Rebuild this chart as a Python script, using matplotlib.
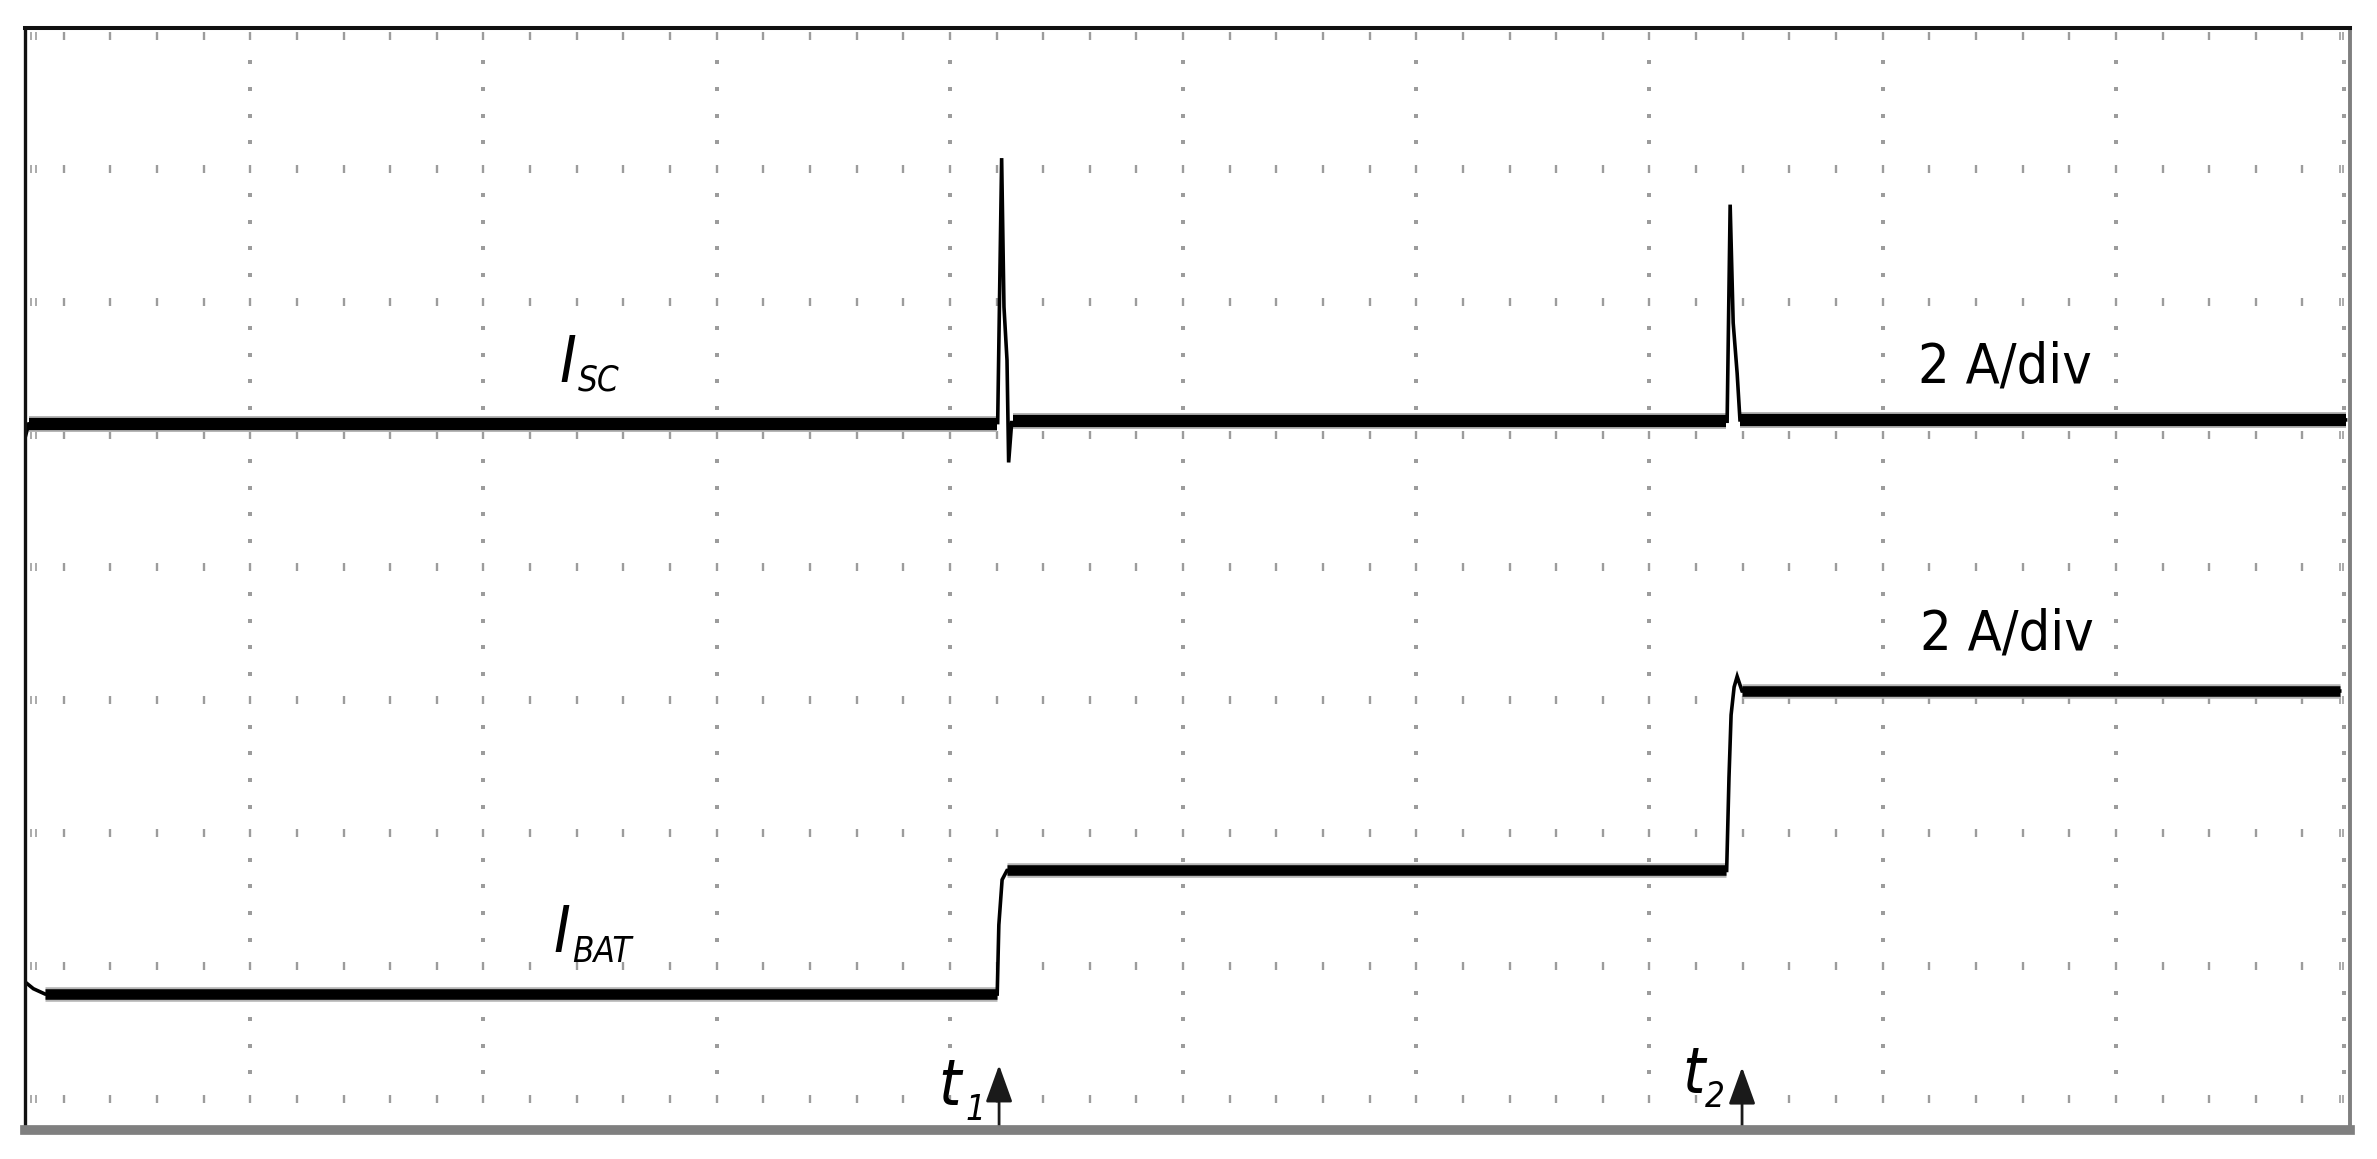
import matplotlib
matplotlib.use("Agg")
import matplotlib.pyplot as plt
import numpy as np

# ---------------- data (oscilloscope divisions) ----------------
# I_SC trace: baseline with two short spikes at t1 and t2
isc_t = [0.035, 0.05, 4.205, 4.222, 4.232, 4.245, 4.252, 4.265, 7.333, 7.346, 7.359, 7.376, 7.388, 9.985]
isc_v = [4.98, 5.08, 5.09, 7.08, 5.96, 5.56, 4.79, 5.09, 5.10, 6.73, 5.84, 5.46, 5.11, 5.11]
isc_band_start = [0.05, 4.27, 7.39]
isc_band_end = [4.20, 7.33, 9.985]
isc_band_level = [5.08, 5.10, 5.11]

# I_BAT trace: two steps at t1 and t2
ibat_t = [0.035, 0.07, 0.12, 4.203, 4.210, 4.224, 4.245, 7.331, 7.341, 7.350, 7.363, 7.376, 7.397, 9.96]
ibat_v = [0.88, 0.83, 0.79, 0.79, 1.31, 1.65, 1.72, 1.72, 2.42, 2.89, 3.10, 3.18, 3.07, 3.07]
ibat_band_start = [0.12, 4.245, 7.397]
ibat_band_end = [4.20, 7.33, 9.96]
ibat_band_level = [0.79, 1.72, 3.07]

# event markers
event_names = ["1", "2"]
event_x = [4.211, 7.397]
event_tip = [0.256, 0.24]

scale_labels = ["2 A/div", "2 A/div"]

# ---------------- figure ----------------
W, H = 2377, 1159
fig = plt.figure(figsize=(W / 100, H / 100), dpi=100)
fig.patch.set_facecolor("white")

left_px, right_px, top_px, bot_px = 25, 2350, 28, 1130
ax = fig.add_axes([left_px / W, 1 - bot_px / H, (right_px - left_px) / W, (bot_px - top_px) / H])
ax.set_xlim(0.034, 10.004)
ax.set_ylim(-0.233, 8.059)
ax.set_xticks([])
ax.set_yticks([])
for s in ax.spines.values():
    s.set_zorder(6)
ax.spines["left"].set_color("#111111"); ax.spines["left"].set_linewidth(2.4)
ax.spines["top"].set_color("#111111"); ax.spines["top"].set_linewidth(2.9)
ax.spines["right"].set_color("#7f7f7f"); ax.spines["right"].set_linewidth(2.8)
ax.spines["bottom"].set_color("#7f7f7f"); ax.spines["bottom"].set_linewidth(7.0)

# ---------------- dotted graticule ----------------
gcol = "#9c9c9c"
rows = np.arange(0, 9)
row_x = np.arange(1, 50) * 0.2
for r in rows:
    ax.plot(row_x, np.full_like(row_x, r), ls="none", marker="|", ms=5.6, mew=1.7,
            color=gcol, zorder=1)
    ax.plot([0.06, 0.08, 9.96, 9.975], [r] * 4, ls="none", marker="|", ms=5.6, mew=1.2,
            color=gcol, zorder=1)
col_y = np.array([i * 0.2 for i in range(0, 41) if i % 5 != 0])
for c in list(range(1, 10)) + [9.978]:
    ax.plot(np.full_like(col_y, c), col_y, ls="none", marker="s", ms=2.4, mew=0,
            color=gcol, zorder=1)

# ---------------- traces ----------------
ax.hlines(isc_band_level, isc_band_start, isc_band_end, color="#b5b5b5", lw=11.5, zorder=2)
ax.hlines(isc_band_level, isc_band_start, isc_band_end, color="black", lw=8.8, zorder=3)
ax.plot(isc_t, isc_v, color="black", lw=2.6, zorder=4, solid_joinstyle="miter")

ax.hlines(ibat_band_level, ibat_band_start, ibat_band_end, color="#b5b5b5", lw=10.5, zorder=2)
ax.hlines(ibat_band_level, ibat_band_start, ibat_band_end, color="black", lw=7.6, zorder=3)
ax.plot(ibat_t, ibat_v, color="black", lw=2.6, zorder=4, solid_joinstyle="miter")

# ---------------- text ----------------
fam = ["Liberation Sans Narrow", "DejaVu Sans"]
big = 40
small = 25

for lab, x, yb in zip(scale_labels, [8.152, 8.16], [5.395, 3.386]):
    ax.text(x, yb, lab, fontsize=big, family=fam, stretch="condensed",
            ha="left", va="baseline", color="black", zorder=7)

# I_SC
ax.text(2.325, 5.395, "I", fontsize=big + 6, family=fam, stretch="condensed", style="italic",
        ha="left", va="baseline", zorder=7)
ax.text(2.405, 5.335, "SC", fontsize=small, family=fam, stretch="condensed", style="italic",
        ha="left", va="baseline", zorder=7)
# I_BAT
ax.text(2.300, 1.106, "I", fontsize=big + 6, family=fam, stretch="condensed", style="italic",
        ha="left", va="baseline", zorder=7)
ax.text(2.380, 1.031, "BAT", fontsize=small, family=fam, stretch="condensed", style="italic",
        ha="left", va="baseline", zorder=7)

# t1, t2 with arrows
t_pos = [(3.950, -0.045, 4.068, -0.158), (7.140, 0.045, 7.238, -0.06)]
for name, x, tip, (tx, ty, sx, sy) in zip(event_names, event_x, event_tip, t_pos):
    ax.text(tx, ty, "t", fontsize=big + 6, family=fam, stretch="condensed", style="italic",
            ha="left", va="baseline", zorder=7)
    ax.text(sx, sy, name, fontsize=small, family=fam, stretch="condensed", style="italic",
            ha="left", va="baseline", zorder=7)
    ax.annotate("", xy=(x, tip), xytext=(x, -0.233),
                arrowprops=dict(arrowstyle="-|>,head_length=1.0,head_width=0.36",
                                mutation_scale=23, color="#1a1a1a", lw=2.0,
                                shrinkA=0, shrinkB=0),
                zorder=5)

fig.savefig("out.png", dpi=100, facecolor="white")
